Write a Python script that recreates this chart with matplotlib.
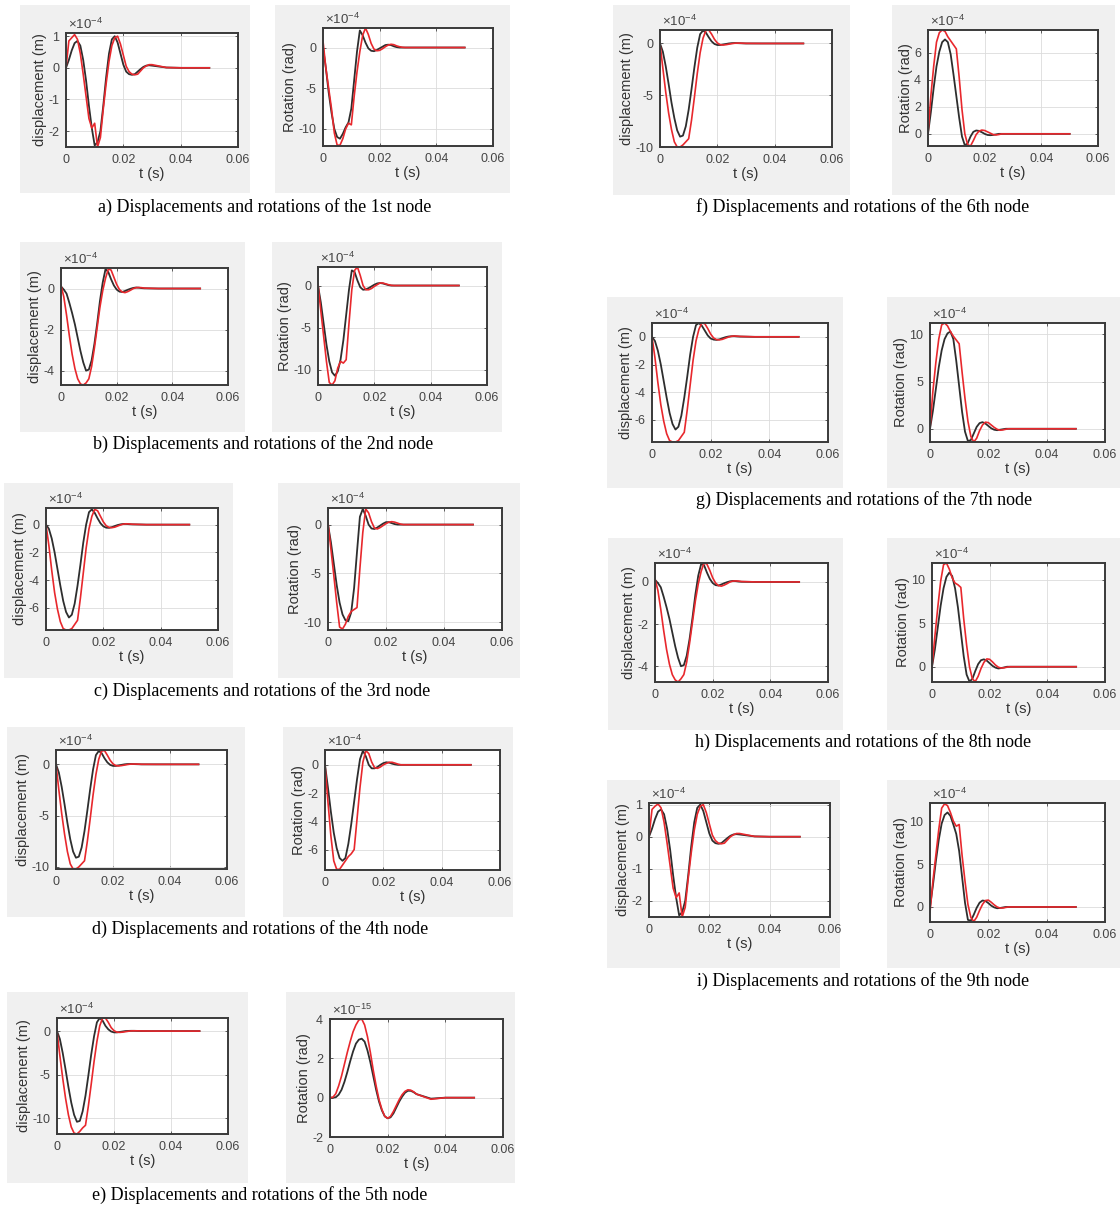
"""Displacements and rotations of the nine nodes (black / red responses)
"""

import matplotlib
matplotlib.use("Agg")
import matplotlib.pyplot as plt
from matplotlib.patches import Rectangle
import numpy as np

# time samples in ms
T_MS = [0, 1, 2, 3, 4, 5, 6, 7, 8, 9, 10, 11, 12, 13, 14, 15, 16, 17, 18, 19, 20,
        21, 22, 23, 24, 25, 26, 27, 28, 29, 30, 35, 40, 45, 50]

# node 1 (x1e-4)
disp_black_1 = [0, 0.25, 0.55, 0.78, 0.85, 0.7, 0.25, -0.4, -1.2, -1.9, -2.45, -2.35, -2.0, -1.2, -0.3, 0.45, 0.9, 1.0, 0.8, 0.45, 0.1, -0.12, -0.2, -0.22, -0.2, -0.12, -0.04, 0.03, 0.07, 0.08, 0.07, 0.01, 0, 0, 0]
disp_red_1 = [0, 0.85, 0.95, 1.05, 0.9, 0.45, -0.2, -0.9, -1.6, -1.9, -1.75, -2.5, -2.2, -1.3, -0.5, 0.2, 0.7, 0.95, 1.0, 0.75, 0.4, 0.05, -0.12, -0.2, -0.22, -0.2, -0.1, 0.0, 0.06, 0.1, 0.1, 0.01, 0, 0, 0]
rot_black_1 = [0, -2.5, -5.5, -8.0, -10.0, -11.0, -11.2, -10.6, -9.8, -9.2, -7.5, -4.0, -0.5, 2.1, 1.5, 0.6, -0.1, -0.4, -0.45, -0.3, -0.1, 0.1, 0.3, 0.35, 0.3, 0.15, 0.05, 0, 0, 0, 0, 0, 0, 0, 0]
rot_red_1 = [0.8, -2.5, -5.0, -7.5, -10.5, -12.0, -12.0, -11.2, -10.0, -9.3, -9.5, -6.0, -3.0, -0.5, 1.5, 2.4, 1.6, 0.5, -0.2, -0.4, -0.35, -0.15, 0.1, 0.3, 0.4, 0.35, 0.2, 0.1, 0.03, 0, 0, 0, 0, 0, 0]

# node 2
disp_black_2 = [0.1, -0.05, -0.25, -0.7, -1.2, -1.75, -2.4, -3.05, -3.6, -4.0, -3.95, -3.5, -2.7, -1.7, -0.6, 0.3, 0.95, 0.8, 0.45, 0.15, -0.05, -0.15, -0.17, -0.12, -0.06, -0.01, 0.03, 0.05, 0.04, 0.02, 0.01, 0, 0, 0, 0]
disp_red_2 = [0.15, -0.4, -1.3, -2.3, -3.2, -3.9, -4.4, -4.65, -4.7, -4.6, -4.4, -3.8, -2.9, -1.9, -0.9, -0.1, 0.5, 0.95, 0.9, 0.55, 0.2, -0.05, -0.17, -0.2, -0.15, -0.08, 0.0, 0.04, 0.05, 0.04, 0.02, 0, 0, 0, 0]
rot_black_2 = [0, -2.0, -4.5, -7.0, -9.0, -10.3, -10.7, -10.2, -8.8, -6.5, -3.5, -0.5, 1.8, 1.6, 0.6, -0.2, -0.5, -0.45, -0.3, -0.1, 0.1, 0.25, 0.3, 0.25, 0.15, 0.05, 0, 0, 0, 0, 0, 0, 0, 0, 0]
rot_red_2 = [0.2, -3.0, -6.0, -9.0, -11.5, -11.8, -11.3, -9.8, -9.0, -9.2, -8.8, -4.5, -0.5, 1.8, 2.2, 1.2, 0.0, -0.5, -0.5, -0.35, -0.1, 0.1, 0.3, 0.3, 0.2, 0.1, 0.03, 0, 0, 0, 0, 0, 0, 0, 0]

# node 3
disp_black_3 = [0, -0.3, -1.0, -2.0, -3.2, -4.4, -5.5, -6.3, -6.7, -6.5, -5.7, -4.4, -2.9, -1.3, 0.0, 0.9, 1.1, 0.85, 0.45, 0.1, -0.12, -0.22, -0.23, -0.18, -0.1, -0.03, 0.02, 0.05, 0.05, 0.03, 0.02, 0, 0, 0, 0]
disp_red_3 = [0, -1.5, -3.3, -4.9, -6.1, -7.0, -7.5, -7.6, -7.6, -7.5, -7.2, -6.9, -5.3, -3.5, -1.7, -0.3, 0.6, 1.1, 1.0, 0.6, 0.2, -0.08, -0.2, -0.22, -0.18, -0.1, -0.02, 0.04, 0.06, 0.05, 0.03, 0, 0, 0, 0]
rot_black_3 = [0, -1.8, -4.0, -6.2, -8.0, -9.2, -9.8, -9.9, -9.0, -6.5, -2.8, 0.8, 1.6, 0.9, 0.0, -0.4, -0.45, -0.3, -0.1, 0.1, 0.25, 0.25, 0.15, 0.05, 0, 0, 0, 0, 0, 0, 0, 0, 0, 0, 0]
rot_red_3 = [0.2, -2.5, -5.2, -8.0, -10.5, -10.7, -10.2, -9.4, -8.9, -8.7, -8.5, -4.5, -0.8, 1.6, 1.2, 0.3, -0.35, -0.45, -0.3, -0.1, 0.1, 0.25, 0.3, 0.25, 0.15, 0.05, 0, 0, 0, 0, 0, 0, 0, 0, 0]

# node 4
disp_black_4 = [0, -0.8, -2.2, -3.9, -5.7, -7.3, -8.5, -9.1, -9.0, -8.1, -6.5, -4.5, -2.4, -0.5, 0.9, 1.3, 1.1, 0.6, 0.2, -0.05, -0.15, -0.15, -0.1, -0.05, 0.0, 0.03, 0.04, 0.03, 0.02, 0.01, 0, 0, 0, 0, 0]
disp_red_4 = [0, -2.5, -4.8, -6.8, -8.5, -9.7, -10.2, -10.2, -10.0, -9.7, -9.4, -7.5, -5.3, -3.0, -1.0, 0.5, 1.3, 1.35, 0.9, 0.4, 0.05, -0.12, -0.15, -0.12, -0.07, -0.02, 0.02, 0.03, 0.03, 0.02, 0.01, 0, 0, 0, 0]
rot_black_4 = [0, -1.6, -3.3, -4.8, -5.9, -6.6, -6.8, -6.6, -5.6, -4.2, -2.6, -1.0, 0.4, 1.0, 0.6, 0.0, -0.25, -0.25, -0.15, 0.0, 0.12, 0.18, 0.15, 0.08, 0.03, 0, 0, 0, 0, 0, 0, 0, 0, 0, 0]
rot_red_4 = [0, -2.6, -5.0, -6.8, -7.4, -7.4, -7.1, -6.8, -6.5, -6.3, -6.0, -3.8, -1.6, 0.2, 1.0, 0.8, 0.2, -0.2, -0.25, -0.15, 0.0, 0.1, 0.18, 0.18, 0.12, 0.05, 0, 0, 0, 0, 0, 0, 0, 0, 0]

# node 5 (rotation x1e-15)
disp_black_5 = [0, -0.9, -2.5, -4.4, -6.4, -8.2, -9.6, -10.4, -10.3, -9.2, -7.4, -5.1, -2.7, -0.6, 1.0, 1.5, 1.2, 0.6, 0.2, -0.05, -0.15, -0.15, -0.1, -0.05, 0.0, 0.02, 0.03, 0.03, 0.02, 0.01, 0, 0, 0, 0, 0]
disp_red_5 = [0, -2.8, -5.4, -7.7, -9.6, -11.0, -11.7, -11.8, -11.5, -11.1, -10.8, -8.6, -6.1, -3.5, -1.2, 0.6, 1.5, 1.5, 1.0, 0.4, 0.05, -0.12, -0.15, -0.12, -0.07, -0.02, 0.02, 0.03, 0.03, 0.02, 0.01, 0, 0, 0, 0]
rot_black_5 = [0, 0, 0.02, 0.15, 0.4, 0.8, 1.3, 1.85, 2.35, 2.75, 2.95, 3.0, 2.85, 2.4, 1.8, 1.1, 0.4, -0.2, -0.65, -0.95, -1.05, -1.0, -0.8, -0.5, -0.2, 0.05, 0.25, 0.35, 0.35, 0.28, 0.18, -0.05, 0, 0, 0]
rot_red_5 = [0, 0.02, 0.2, 0.6, 1.1, 1.7, 2.3, 2.85, 3.35, 3.7, 3.95, 4.0, 3.7, 3.1, 2.3, 1.4, 0.6, -0.1, -0.6, -0.95, -1.05, -0.95, -0.7, -0.4, -0.1, 0.15, 0.32, 0.4, 0.38, 0.3, 0.18, -0.08, 0, 0, 0]

# node 6
disp_black_6 = [0, -0.8, -2.2, -3.9, -5.7, -7.2, -8.4, -9.0, -8.9, -8.0, -6.4, -4.4, -2.3, -0.4, 0.9, 1.25, 1.05, 0.6, 0.2, -0.05, -0.15, -0.15, -0.1, -0.05, 0.0, 0.03, 0.04, 0.03, 0.02, 0.01, 0, 0, 0, 0, 0]
disp_red_6 = [0, -2.4, -4.7, -6.7, -8.3, -9.5, -10.0, -10.0, -9.8, -9.5, -9.2, -7.4, -5.2, -2.9, -0.9, 0.5, 1.25, 1.3, 0.9, 0.4, 0.05, -0.12, -0.15, -0.12, -0.07, -0.02, 0.02, 0.03, 0.03, 0.02, 0.01, 0, 0, 0, 0]
rot_black_6 = [0, 1.6, 3.4, 5.0, 6.1, 6.8, 7.0, 6.8, 5.9, 4.4, 2.8, 1.2, -0.2, -0.85, -0.7, -0.2, 0.15, 0.25, 0.22, 0.12, 0.0, -0.08, -0.1, -0.08, -0.04, 0, 0, 0, 0, 0, 0, 0, 0, 0, 0]
rot_red_6 = [0, 2.8, 5.0, 6.8, 7.5, 7.7, 7.6, 7.2, 6.9, 6.6, 6.3, 4.2, 1.8, 0.0, -0.8, -0.9, -0.5, -0.05, 0.2, 0.28, 0.25, 0.15, 0.05, -0.05, -0.08, -0.05, 0, 0, 0, 0, 0, 0, 0, 0, 0]

# node 7
disp_black_7 = [0, -0.3, -1.0, -2.0, -3.2, -4.4, -5.5, -6.3, -6.7, -6.5, -5.7, -4.4, -2.9, -1.3, 0.0, 0.85, 1.0, 0.8, 0.45, 0.1, -0.12, -0.2, -0.22, -0.18, -0.1, -0.03, 0.02, 0.04, 0.05, 0.03, 0.02, 0, 0, 0, 0]
disp_red_7 = [0, -1.5, -3.3, -4.9, -6.1, -7.0, -7.5, -7.6, -7.6, -7.5, -7.2, -6.9, -5.3, -3.5, -1.7, -0.3, 0.55, 1.0, 0.95, 0.6, 0.2, -0.08, -0.2, -0.22, -0.18, -0.1, -0.02, 0.04, 0.06, 0.05, 0.03, 0, 0, 0, 0]
rot_black_7 = [0, 1.9, 4.2, 6.5, 8.3, 9.5, 10.1, 10.3, 9.5, 7.2, 4.5, 1.8, -0.3, -1.3, -1.2, -0.5, 0.2, 0.6, 0.7, 0.55, 0.3, 0.05, -0.1, -0.15, -0.1, -0.05, 0, 0, 0, 0, 0, 0, 0, 0, 0]
rot_red_7 = [0, 4.0, 7.0, 9.5, 11.0, 11.2, 10.9, 10.3, 9.8, 9.4, 9.0, 6.0, 3.2, 0.8, -0.8, -1.4, -1.0, -0.2, 0.4, 0.7, 0.65, 0.4, 0.15, -0.05, -0.15, -0.12, -0.05, 0, 0, 0, 0, 0, 0, 0, 0]

# node 8
disp_black_8 = [0.1, -0.05, -0.25, -0.7, -1.2, -1.75, -2.4, -3.05, -3.6, -4.0, -3.95, -3.5, -2.7, -1.7, -0.6, 0.3, 0.85, 0.8, 0.45, 0.15, -0.05, -0.15, -0.17, -0.12, -0.06, -0.01, 0.03, 0.05, 0.04, 0.02, 0.01, 0, 0, 0, 0]
disp_red_8 = [0.15, -0.4, -1.3, -2.3, -3.2, -3.9, -4.4, -4.65, -4.75, -4.6, -4.4, -3.8, -2.9, -1.9, -0.9, -0.1, 0.5, 0.9, 0.85, 0.55, 0.2, -0.05, -0.17, -0.2, -0.15, -0.08, 0.0, 0.04, 0.05, 0.04, 0.02, 0, 0, 0, 0]
rot_black_8 = [0, 2.0, 4.5, 7.0, 9.0, 10.3, 10.8, 10.4, 9.0, 6.8, 4.0, 1.2, -0.9, -1.7, -1.4, -0.5, 0.3, 0.75, 0.85, 0.7, 0.4, 0.1, -0.1, -0.2, -0.15, -0.08, 0, 0, 0, 0, 0, 0, 0, 0, 0]
rot_red_8 = [0, 3.5, 6.8, 9.8, 11.7, 11.9, 11.2, 10.2, 9.6, 9.4, 9.1, 5.5, 2.5, 0.0, -1.4, -1.7, -1.1, -0.2, 0.5, 0.9, 0.85, 0.55, 0.2, -0.05, -0.15, -0.12, -0.05, 0, 0, 0, 0, 0, 0, 0, 0]

# node 9
disp_black_9 = [0, 0.25, 0.55, 0.78, 0.85, 0.7, 0.25, -0.4, -1.2, -1.9, -2.45, -2.35, -2.0, -1.2, -0.3, 0.45, 0.9, 1.0, 0.8, 0.45, 0.1, -0.12, -0.2, -0.22, -0.2, -0.12, -0.04, 0.03, 0.07, 0.08, 0.07, 0.01, 0, 0, 0]
disp_red_9 = [0, 0.85, 0.95, 1.02, 0.9, 0.45, -0.2, -0.9, -1.6, -1.9, -1.75, -2.5, -2.2, -1.3, -0.5, 0.2, 0.7, 0.95, 1.0, 0.75, 0.4, 0.05, -0.12, -0.2, -0.22, -0.2, -0.1, 0.0, 0.06, 0.1, 0.1, 0.01, 0, 0, 0]
rot_black_9 = [0, 2.5, 5.3, 7.8, 9.7, 10.7, 11.0, 10.6, 9.6, 8.5, 6.5, 3.5, 0.5, -1.5, -1.6, -0.9, -0.1, 0.5, 0.75, 0.7, 0.45, 0.15, -0.05, -0.15, -0.12, -0.06, 0, 0, 0, 0, 0, 0, 0, 0, 0]
rot_red_9 = [-0.6, 3.0, 6.0, 9.0, 11.5, 12.0, 11.8, 11.0, 10.0, 9.4, 9.6, 6.0, 3.0, 0.3, -1.2, -1.7, -1.2, -0.4, 0.3, 0.75, 0.8, 0.55, 0.25, 0.0, -0.12, -0.12, -0.05, 0, 0, 0, 0, 0, 0, 0, 0]

CAPTIONS = [
    "a) Displacements and rotations of the 1st node",
    "b) Displacements and rotations of the 2nd node",
    "c) Displacements and rotations of the 3rd node",
    "d) Displacements and rotations of the 4th node",
    "e) Displacements and rotations of the 5th node",
    "f) Displacements and rotations of the 6th node",
    "g) Displacements and rotations of the 7th node",
    "h) Displacements and rotations of the 8th node",
    "i) Displacements and rotations of the 9th node",
]

DISP = [(disp_black_1, disp_red_1), (disp_black_2, disp_red_2), (disp_black_3, disp_red_3),
        (disp_black_4, disp_red_4), (disp_black_5, disp_red_5), (disp_black_6, disp_red_6),
        (disp_black_7, disp_red_7), (disp_black_8, disp_red_8), (disp_black_9, disp_red_9)]
ROT = [(rot_black_1, rot_red_1), (rot_black_2, rot_red_2), (rot_black_3, rot_red_3),
       (rot_black_4, rot_red_4), (rot_black_5, rot_red_5), (rot_black_6, rot_red_6),
       (rot_black_7, rot_red_7), (rot_black_8, rot_red_8), (rot_black_9, rot_red_9)]

DISP_YTICKS = [[-2, -1, 0, 1], [-4, -2, 0], [-6, -4, -2, 0], [-10, -5, 0], [-10, -5, 0],
               [-10, -5, 0], [-6, -4, -2, 0], [-4, -2, 0], [-2, -1, 0, 1]]
ROT_YTICKS = [[-10, -5, 0], [-10, -5, 0], [-10, -5, 0], [-6, -4, -2, 0], [-2, 0, 2, 4],
              [0, 2, 4, 6], [0, 5, 10], [0, 5, 10], [0, 5, 10]]
ROT_EXP = [-4, -4, -4, -4, -15, -4, -4, -4, -4]

# ---- layout (pixels in a 1120 x 1210 canvas) ----
W, H = 1120, 1210
DISP_YLIM = [(-2.5, 1.1), (-4.7, 1.0), (-7.6, 1.2), (-10.2, 1.4), (-11.8, 1.5),
             (-10.0, 1.3), (-7.6, 1.0), (-4.75, 0.9), (-2.5, 1.05)]
ROT_YLIM = [(-12.1, 2.4), (-11.8, 2.2), (-10.8, 1.7), (-7.45, 1.05), (-2, 4),
            (-0.9, 7.7), (-1.4, 11.2), (-1.75, 11.9), (-1.75, 12.1)]
# gray box left, axes left, gray box right, axes right : (x0, y0, x1, y1)
GRAY_L = [(20, 5, 250, 193), (20, 242, 245, 432), (4, 483, 233, 678), (7, 727, 245, 917), (7, 992, 248, 1183),
          (613, 5, 850, 195), (607, 297, 843, 488), (608, 538, 843, 730), (607, 780, 840, 968)]
AX_L = [(66, 33, 238, 147), (61, 268, 228, 385), (46, 508, 218, 630), (56, 750, 227, 869), (57, 1018, 228, 1134),
        (660, 30, 832, 147), (652, 323, 828, 442), (655, 563, 828, 682), (649, 803, 830, 917)]
GRAY_R = [(275, 5, 510, 193), (272, 242, 502, 432), (278, 483, 520, 678), (283, 727, 513, 917), (286, 992, 515, 1183),
          (892, 5, 1115, 195), (887, 297, 1120, 488), (887, 538, 1120, 730), (887, 780, 1120, 968)]
AX_R = [(323, 28, 493, 146), (318, 267, 487, 385), (328, 508, 502, 630), (325, 750, 500, 870), (330, 1019, 503, 1137),
        (928, 30, 1098, 146), (930, 323, 1105, 442), (932, 563, 1105, 682), (930, 803, 1105, 922)]
CAP_XY = [(265, 207), (263, 444), (262, 691), (260, 929), (260, 1195),
          (863, 207), (864, 500), (863, 742), (863, 981)]

BLACK = "#2e2e2e"
RED = "#e8282d"
SANS = ["Liberation Sans", "DejaVu Sans"]

t = np.array(T_MS) / 1000.0


def fig_rect(box):
    x0, y0, x1, y1 = box
    return [x0 / W, 1 - y1 / H, (x1 - x0) / W, (y1 - y0) / H]


def draw_panel(fig, box, black, red, yticks, ylim, ylabel, exp):
    ax = fig.add_axes(fig_rect(box))
    ax.plot(t, black, color=BLACK, lw=1.3)
    ax.plot(t, red, color=RED, lw=1.2)
    ax.set_xlim(0, 0.06)
    ax.set_xticks([0, 0.02, 0.04, 0.06])
    ax.set_xticklabels(["0", "0.02", "0.04", "0.06"])
    ax.set_ylim(*ylim)
    ax.set_yticks(yticks)
    ax.set_yticklabels([str(v) for v in yticks])
    ax.grid(True, color="#dcdcdc", lw=0.6)
    ax.set_axisbelow(True)
    for s in ax.spines.values():
        s.set_color("#3a3a3a")
        s.set_linewidth(1.4)
    ax.tick_params(direction="in", length=2.5, width=0.6, colors="#444444",
                   labelsize=9, pad=5, top=True, right=True)
    for lab in ax.get_xticklabels() + ax.get_yticklabels():
        lab.set_family(SANS)
    ax.set_xlabel("t (s)", fontsize=10.5, family=SANS, color="#333333", labelpad=1)
    ax.set_ylabel(ylabel, fontsize=10.5, family=SANS, color="#333333", labelpad=1)
    ax.text(0.01, 1.01, r"$\times10^{%d}$" % exp, transform=ax.transAxes,
            fontsize=9.5, ha="left", va="bottom", color="#444444", family=SANS)
    return ax


fig = plt.figure(figsize=(W / 100, H / 100), dpi=100)
fig.patch.set_facecolor("white")
plt.rcParams["mathtext.fontset"] = "custom"
plt.rcParams["mathtext.rm"] = "Liberation Sans"

for k in range(9):
    for gbox in (GRAY_L[k], GRAY_R[k]):
        x, y, w, h = fig_rect(gbox)
        fig.add_artist(Rectangle((x, y), w, h, transform=fig.transFigure,
                                 facecolor="#f0f0f0", edgecolor="none", zorder=-5))
    draw_panel(fig, AX_L[k], DISP[k][0], DISP[k][1], DISP_YTICKS[k], DISP_YLIM[k],
               "displacement (m)", -4)
    draw_panel(fig, AX_R[k], ROT[k][0], ROT[k][1], ROT_YTICKS[k], ROT_YLIM[k],
               "Rotation (rad)", ROT_EXP[k])
    cx, cy = CAP_XY[k]
    fig.text(cx / W, 1 - cy / H, CAPTIONS[k], ha="center", va="center",
             fontsize=13, family=["Liberation Serif", "DejaVu Serif"])

fig.savefig("out.png", dpi=100)
